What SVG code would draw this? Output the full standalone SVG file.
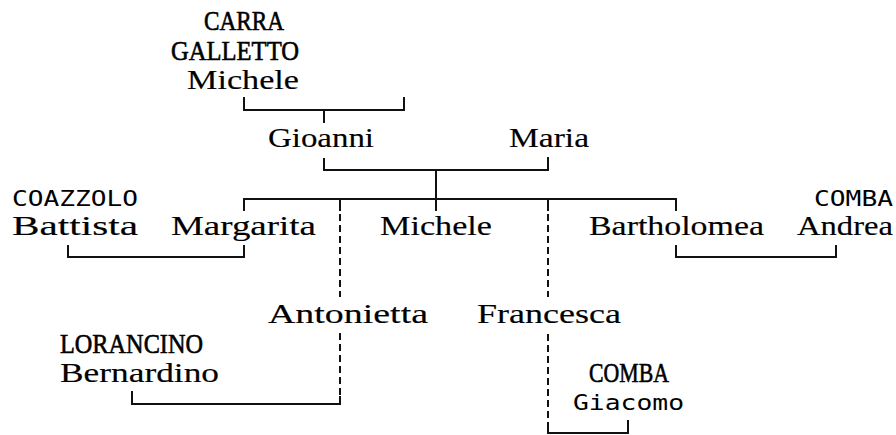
<svg xmlns="http://www.w3.org/2000/svg" width="896" height="435" viewBox="0 0 896 435">
<style>
.s{font-family:"Liberation Serif","DejaVu Serif",serif;font-size:27px;fill:#000;stroke:#000;stroke-width:0.15}
.c{font-family:"Liberation Serif","DejaVu Serif",serif;font-size:27.5px;fill:#000;stroke:#000;stroke-width:0.6}
.m{font-family:"DejaVu Sans Mono","Liberation Mono",monospace;font-size:22px;fill:#000}
.ln{stroke:#111;stroke-width:2;fill:none}
.dl{stroke:#111;stroke-width:2;fill:none;stroke-dasharray:7 4}
</style>
<rect width="896" height="435" fill="#fff"/>
<g id="connectors">
<path class="ln" d="M244,97V110H404V97M324,110V123"/>
<path class="ln" d="M324,158V170H548V157M436,170V211"/>
<path class="ln" d="M244,211V199H676V211M340,199V211M548,199V211"/>
<path class="dl" d="M340,214V297M340,333V396M548,214V297M548,334V425"/>
<path class="ln" d="M340,396V404H132V391"/>
<path class="ln" d="M548,425V433H628V420"/>
<path class="ln" d="M68,245V257H244V245"/>
<path class="ln" d="M676,245V257H836V245"/>
</g>
<g id="carra-galletto-michele">
<text class="c" x="204" y="30" textLength="80" lengthAdjust="spacingAndGlyphs">CARRA</text>
<text class="c" x="171" y="60" textLength="128" lengthAdjust="spacingAndGlyphs">GALLETTO</text>
<text class="s" x="187" y="89" textLength="112" lengthAdjust="spacingAndGlyphs">Michele</text>
</g>
<g id="gioanni"><text class="s" x="268" y="147" textLength="106" lengthAdjust="spacingAndGlyphs">Gioanni</text></g>
<g id="maria"><text class="s" x="509" y="147" textLength="80" lengthAdjust="spacingAndGlyphs">Maria</text></g>
<g id="coazzolo-battista">
<text class="m" x="12" y="206" textLength="126" lengthAdjust="spacingAndGlyphs">COAZZOLO</text>
<text class="s" x="12" y="235" textLength="126" lengthAdjust="spacingAndGlyphs">Battista</text>
</g>
<g id="margarita"><text class="s" x="171" y="235" textLength="145" lengthAdjust="spacingAndGlyphs">Margarita</text></g>
<g id="michele"><text class="s" x="380" y="235" textLength="112" lengthAdjust="spacingAndGlyphs">Michele</text></g>
<g id="bartholomea"><text class="s" x="589" y="235" textLength="175" lengthAdjust="spacingAndGlyphs">Bartholomea</text></g>
<g id="comba-andrea">
<text class="m" x="814" y="206" textLength="79" lengthAdjust="spacingAndGlyphs">COMBA</text>
<text class="s" x="797" y="235" textLength="96" lengthAdjust="spacingAndGlyphs">Andrea</text>
</g>
<g id="antonietta"><text class="s" x="268" y="323" textLength="160" lengthAdjust="spacingAndGlyphs">Antonietta</text></g>
<g id="francesca"><text class="s" x="477" y="323" textLength="144" lengthAdjust="spacingAndGlyphs">Francesca</text></g>
<g id="lorancino-bernardino">
<text class="c" x="60" y="353" textLength="143" lengthAdjust="spacingAndGlyphs">LORANCINO</text>
<text class="s" x="60" y="382" textLength="159" lengthAdjust="spacingAndGlyphs">Bernardino</text>
</g>
<g id="comba-giacomo">
<text class="c" x="589" y="382" textLength="80" lengthAdjust="spacingAndGlyphs">COMBA</text>
<text class="m" x="573" y="410" textLength="111" lengthAdjust="spacingAndGlyphs">Giacomo</text>
</g>
</svg>
